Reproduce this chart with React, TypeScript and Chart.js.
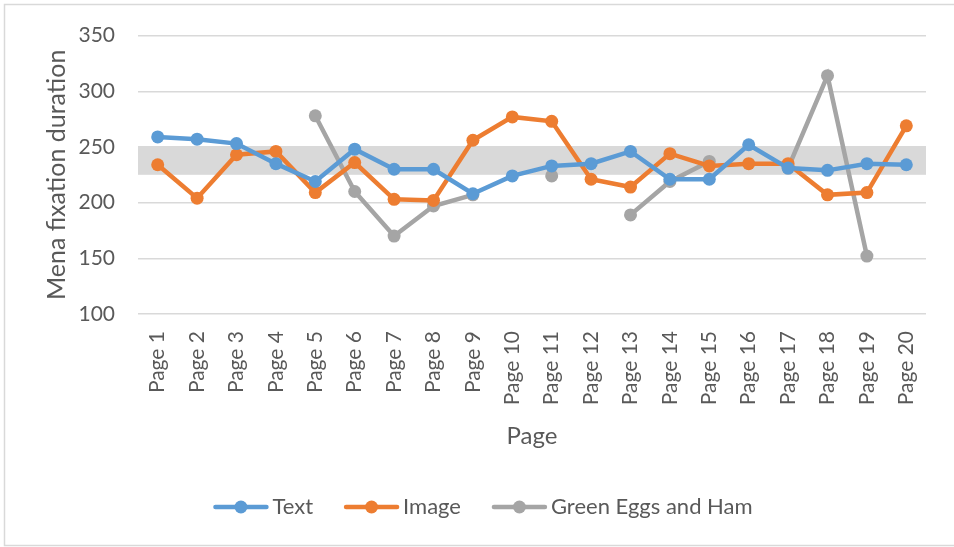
import React, { useEffect, useRef } from "react";
import { Chart, registerables } from "chart.js";

Chart.register(...registerables);

const pages = [
  "Page 1", "Page 2", "Page 3", "Page 4", "Page 5", "Page 6", "Page 7", "Page 8", "Page 9", "Page 10",
  "Page 11", "Page 12", "Page 13", "Page 14", "Page 15", "Page 16", "Page 17", "Page 18", "Page 19", "Page 20",
];
const textValues = [259, 257, 253, 235, 219, 248, 230, 230, 208, 224, 233, 235, 246, 221, 221, 252, 231, 229, 235, 234];
const imageValues = [234, 204, 243, 246, 209, 236, 203, 202, 256, 277, 273, 221, 214, 244, 233, 235, 235, 207, 209, 269];
const greenEggsValues = [null, null, null, null, 278, 210, 170, 197, 207, null, 224, null, 189, 219, 237, null, 231, 314, 152, null];
const bandLow = 225;
const bandHigh = 250;
const yTicks = [100, 150, 200, 250, 300, 350];

const FONT = "Lato, 'Open Sans', sans-serif";
const TXT = "#595959";

const bandPlugin = {
  id: "band",
  beforeDatasetsDraw(chart: any) {
    const { ctx, chartArea, scales } = chart;
    const y1 = scales.y.getPixelForValue(bandHigh);
    const y2 = scales.y.getPixelForValue(bandLow);
    ctx.save();
    ctx.fillStyle = "#d9d9d9";
    ctx.fillRect(chartArea.left, y1, chartArea.right - chartArea.left, y2 - y1);
    ctx.restore();
  },
};

const frameAndLegendPlugin = {
  id: "frameLegend",
  afterDraw(chart: any) {
    const { ctx, width, height } = chart;
    ctx.save();
    ctx.strokeStyle = "#d9d9d9";
    ctx.lineWidth = 1.5;
    ctx.beginPath();
    ctx.moveTo(width + 2, 4.5);
    ctx.lineTo(4.5, 4.5);
    ctx.lineTo(4.5, height - 1.5);
    ctx.lineTo(width + 2, height - 1.5);
    ctx.stroke();

    // legend
    ctx.font = "22px " + FONT;
    ctx.textBaseline = "middle";
    const lineLen = 55;
    const gapText = 4;
    const gapItem = 31;
    const items = chart.data.datasets.map((d: any) => ({
      label: d.label,
      color: d.borderColor,
      w: lineLen + gapText + ctx.measureText(d.label).width,
    }));
    const total = items.reduce((s: number, it: any) => s + it.w, 0) + gapItem * (items.length - 1);
    let x = 483 - total / 2;
    const y = 507;
    for (const it of items) {
      ctx.strokeStyle = it.color;
      ctx.lineWidth = 4.5;
      ctx.lineCap = "round";
      ctx.beginPath();
      ctx.moveTo(x + 2, y);
      ctx.lineTo(x + lineLen - 2, y);
      ctx.stroke();
      ctx.fillStyle = it.color;
      ctx.beginPath();
      ctx.arc(x + lineLen / 2, y, 6.5, 0, Math.PI * 2);
      ctx.fill();
      ctx.fillStyle = TXT;
      ctx.textAlign = "left";
      ctx.fillText(it.label, x + lineLen + gapText, y);
      x += it.w + gapItem;
    }
    ctx.restore();
  },
};

export default function App() {
  const ref = useRef<HTMLCanvasElement>(null);
  useEffect(() => {
    const mk = (label: string, data: any[], color: string) => ({
      label,
      data,
      borderColor: color,
      backgroundColor: color,
      borderWidth: 4.5,
      pointRadius: 6.5,
      pointHoverRadius: 6.5,
      pointBorderWidth: 0,
      pointBackgroundColor: color,
      tension: 0,
      spanGaps: false,
    });
    const chart = new Chart(ref.current as HTMLCanvasElement, {
      type: "line",
      data: {
        labels: pages,
        datasets: [
          mk("Text", textValues, "#5b9bd5"),
          mk("Image", imageValues, "#ed7d31"),
          mk("Green Eggs and Ham", greenEggsValues, "#a5a5a5"),
        ],
      },
      options: {
        animation: false,
        responsive: false,
        layout: { padding: { left: 10, top: 33, right: 28, bottom: 60 } },
        plugins: {
          legend: { display: false },
          tooltip: { enabled: false },
        },
        scales: {
          x: {
            offset: true,
            grid: { display: false, drawTicks: false },
            border: { display: false },
            ticks: {
              color: TXT,
              font: { family: FONT, size: 21 },
              minRotation: 90,
              maxRotation: 90,
              autoSkip: false,
              padding: 17,
            },
            title: {
              display: true,
              text: "Page",
              color: TXT,
              font: { family: FONT, size: 24 },
              padding: { top: 4, bottom: 36 },
            },
            afterFit(scale: any) {
              scale.height = 173;
            },
          },
          y: {
            min: 100,
            max: 350,
            afterBuildTicks(scale: any) {
              scale.ticks = yTicks.map((v) => ({ value: v }));
            },
            grid: { color: "#d9d9d9", lineWidth: 1.5, drawTicks: false },
            border: { display: false },
            ticks: {
              color: TXT,
              font: { family: FONT, size: 21 },
              padding: 23,
            },
            title: {
              display: true,
              text: "Mena fixation duration",
              color: TXT,
              font: { family: FONT, size: 25 },
              padding: { top: 32, bottom: 0 },
            },
            afterFit(scale: any) {
              scale.width = 128;
            },
          },
        },
      },
      plugins: [bandPlugin, frameAndLegendPlugin],
    });
    return () => chart.destroy();
  }, []);
  return (
    <div style={{ position: "fixed", left: 0, top: 0, width: 954, height: 547, background: "#fff" }}>
      <canvas ref={ref} width={954} height={547} style={{ display: "block" }} />
    </div>
  );
}
